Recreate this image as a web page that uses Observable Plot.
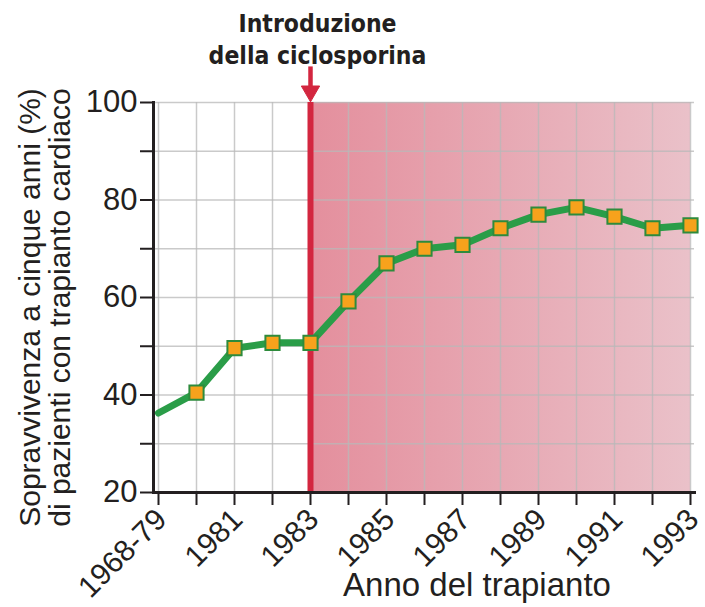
<!DOCTYPE html>
<html>
<head>
<meta charset="utf-8">
<script src="https://cdn.jsdelivr.net/npm/d3@7"></script>
<script src="https://cdn.jsdelivr.net/npm/@observablehq/plot@0.6"></script>
<style>
  html, body { margin: 0; padding: 0; background: #fff; }
  #chart svg { display: block; }
</style>
</head>
<body>
<div id="chart"></div>
<script>
const years = ["1968-79", "1980", "1981", "1982", "1983", "1984", "1985", "1986", "1987", "1988", "1989", "1990", "1991", "1992", "1993"];
const survival = [36.3, 40.5, 49.6, 50.7, 50.7, 59.2, 67.0, 70.0, 70.8, 74.2, 77.0, 78.5, 76.6, 74.2, 74.8];
const hasMarker = [false, true, true, true, true, true, true, true, true, true, true, true, true, true, true];
const yTicks = [20, 30, 40, 50, 60, 70, 80, 90, 100];
const introYear = "1983";
const lastYear = "1993";
const annotation = "Introduzione\ndella ciclosporina";
const yTitle = "Sopravvivenza a cinque anni (%)\ndi pazienti con trapianto cardiaco";
const xTitle = "Anno del trapianto";

const data = years.map((y, i) => ({year: y, value: survival[i], marker: hasMarker[i]}));
const intro = [{year: introYear, end: lastYear, label: annotation}];

const defs = () => {
  const d = d3.create("svg:defs");
  const g = d.append("linearGradient").attr("id", "shade").attr("x1", "0").attr("x2", "1").attr("y1", "0").attr("y2", "0");
  g.append("stop").attr("offset", "0%").attr("stop-color", "#e48f9d");
  g.append("stop").attr("offset", "100%").attr("stop-color", "#eac1c9");
  return d.node();
};

const chart = Plot.plot({
  width: 705,
  height: 607,
  marginLeft: 153,
  marginRight: 11,
  marginTop: 102,
  marginBottom: 115,
  style: {fontFamily: "'Liberation Sans', Arial, sans-serif", color: "#231f20", background: "#fff", overflow: "visible"},
  x: {type: "point", domain: years, padding: 0, range: [153, 694]},
  y: {domain: [20, 100], range: [492, 102]},
  marks: [
    defs,
    Plot.rect(intro, {x1: "year", x2: "end", y1: 20, y2: 100, fill: "url(#shade)"}),
    Plot.gridX({stroke: "#b8b8b8", strokeOpacity: 0.75, strokeWidth: 1.5}),
    Plot.gridY(yTicks, {stroke: "#b8b8b8", strokeOpacity: 0.75, strokeWidth: 1.5}),
    Plot.ruleX(intro, {x: "year", y1: 20, y2: 100, stroke: "#d3263f", strokeWidth: 6}),
    Plot.frame({anchor: "left", stroke: "#231f20", strokeWidth: 3}),
    Plot.frame({anchor: "bottom", stroke: "#231f20", strokeWidth: 3}),
    Plot.axisY({ticks: yTicks, tickSize: 13, tickPadding: 3, tickFormat: d => d % 20 === 0 ? d : "", fontSize: 31, stroke: "#231f20", strokeWidth: 2, label: null}),
    Plot.axisX({tickSize: 13, tickFormat: null, stroke: "#231f20", strokeWidth: 2, label: null}),
    Plot.axisX({tickSize: 0, tickRotate: -45, tickPadding: 22, dx: 3, tickFormat: (d, i) => i % 2 === 0 ? d : "", fontSize: 30, label: null}),
    Plot.line(data, {x: "year", y: "value", stroke: "#2a9d48", strokeWidth: 7, strokeLinejoin: "round"}),
    Plot.dot(data.filter(d => d.marker), {x: "year", y: "value", symbol: "square", r: 8, fill: "#f7a21c", stroke: "#2e8b3c", strokeWidth: 2}),
    Plot.ruleX(intro, {x: "year", y1: 107.3, y2: 102.5, stroke: "#d3263f", strokeWidth: 4.5}),
    Plot.dot(intro, {x: "year", y: 102.3, symbol: "triangle", rotate: 180, r: 6.8, fill: "#d3263f", stroke: "#d3263f", strokeWidth: 1}),
    Plot.text(intro, {x: "year", text: "label", frameAnchor: "top", dx: 7, dy: -64.5, lineAnchor: "middle", lineHeight: 1.3, fontSize: 24.5, fontWeight: "bold", fontFamily: "'Liberation Sans Narrow', 'DejaVu Sans Condensed', sans-serif", fill: "#231f20"}),
    Plot.text([yTitle], {frameAnchor: "left", rotate: -90, dx: -108, dy: 10, lineHeight: 1.0, fontSize: 30, textAnchor: "middle", lineAnchor: "middle", fill: "#231f20"}),
    Plot.text([xTitle], {frameAnchor: "bottom", dx: 53, dy: 93, lineAnchor: "middle", fontSize: 33, fill: "#231f20"})
  ]
});
document.getElementById("chart").appendChild(chart);
</script>
</body>
</html>
